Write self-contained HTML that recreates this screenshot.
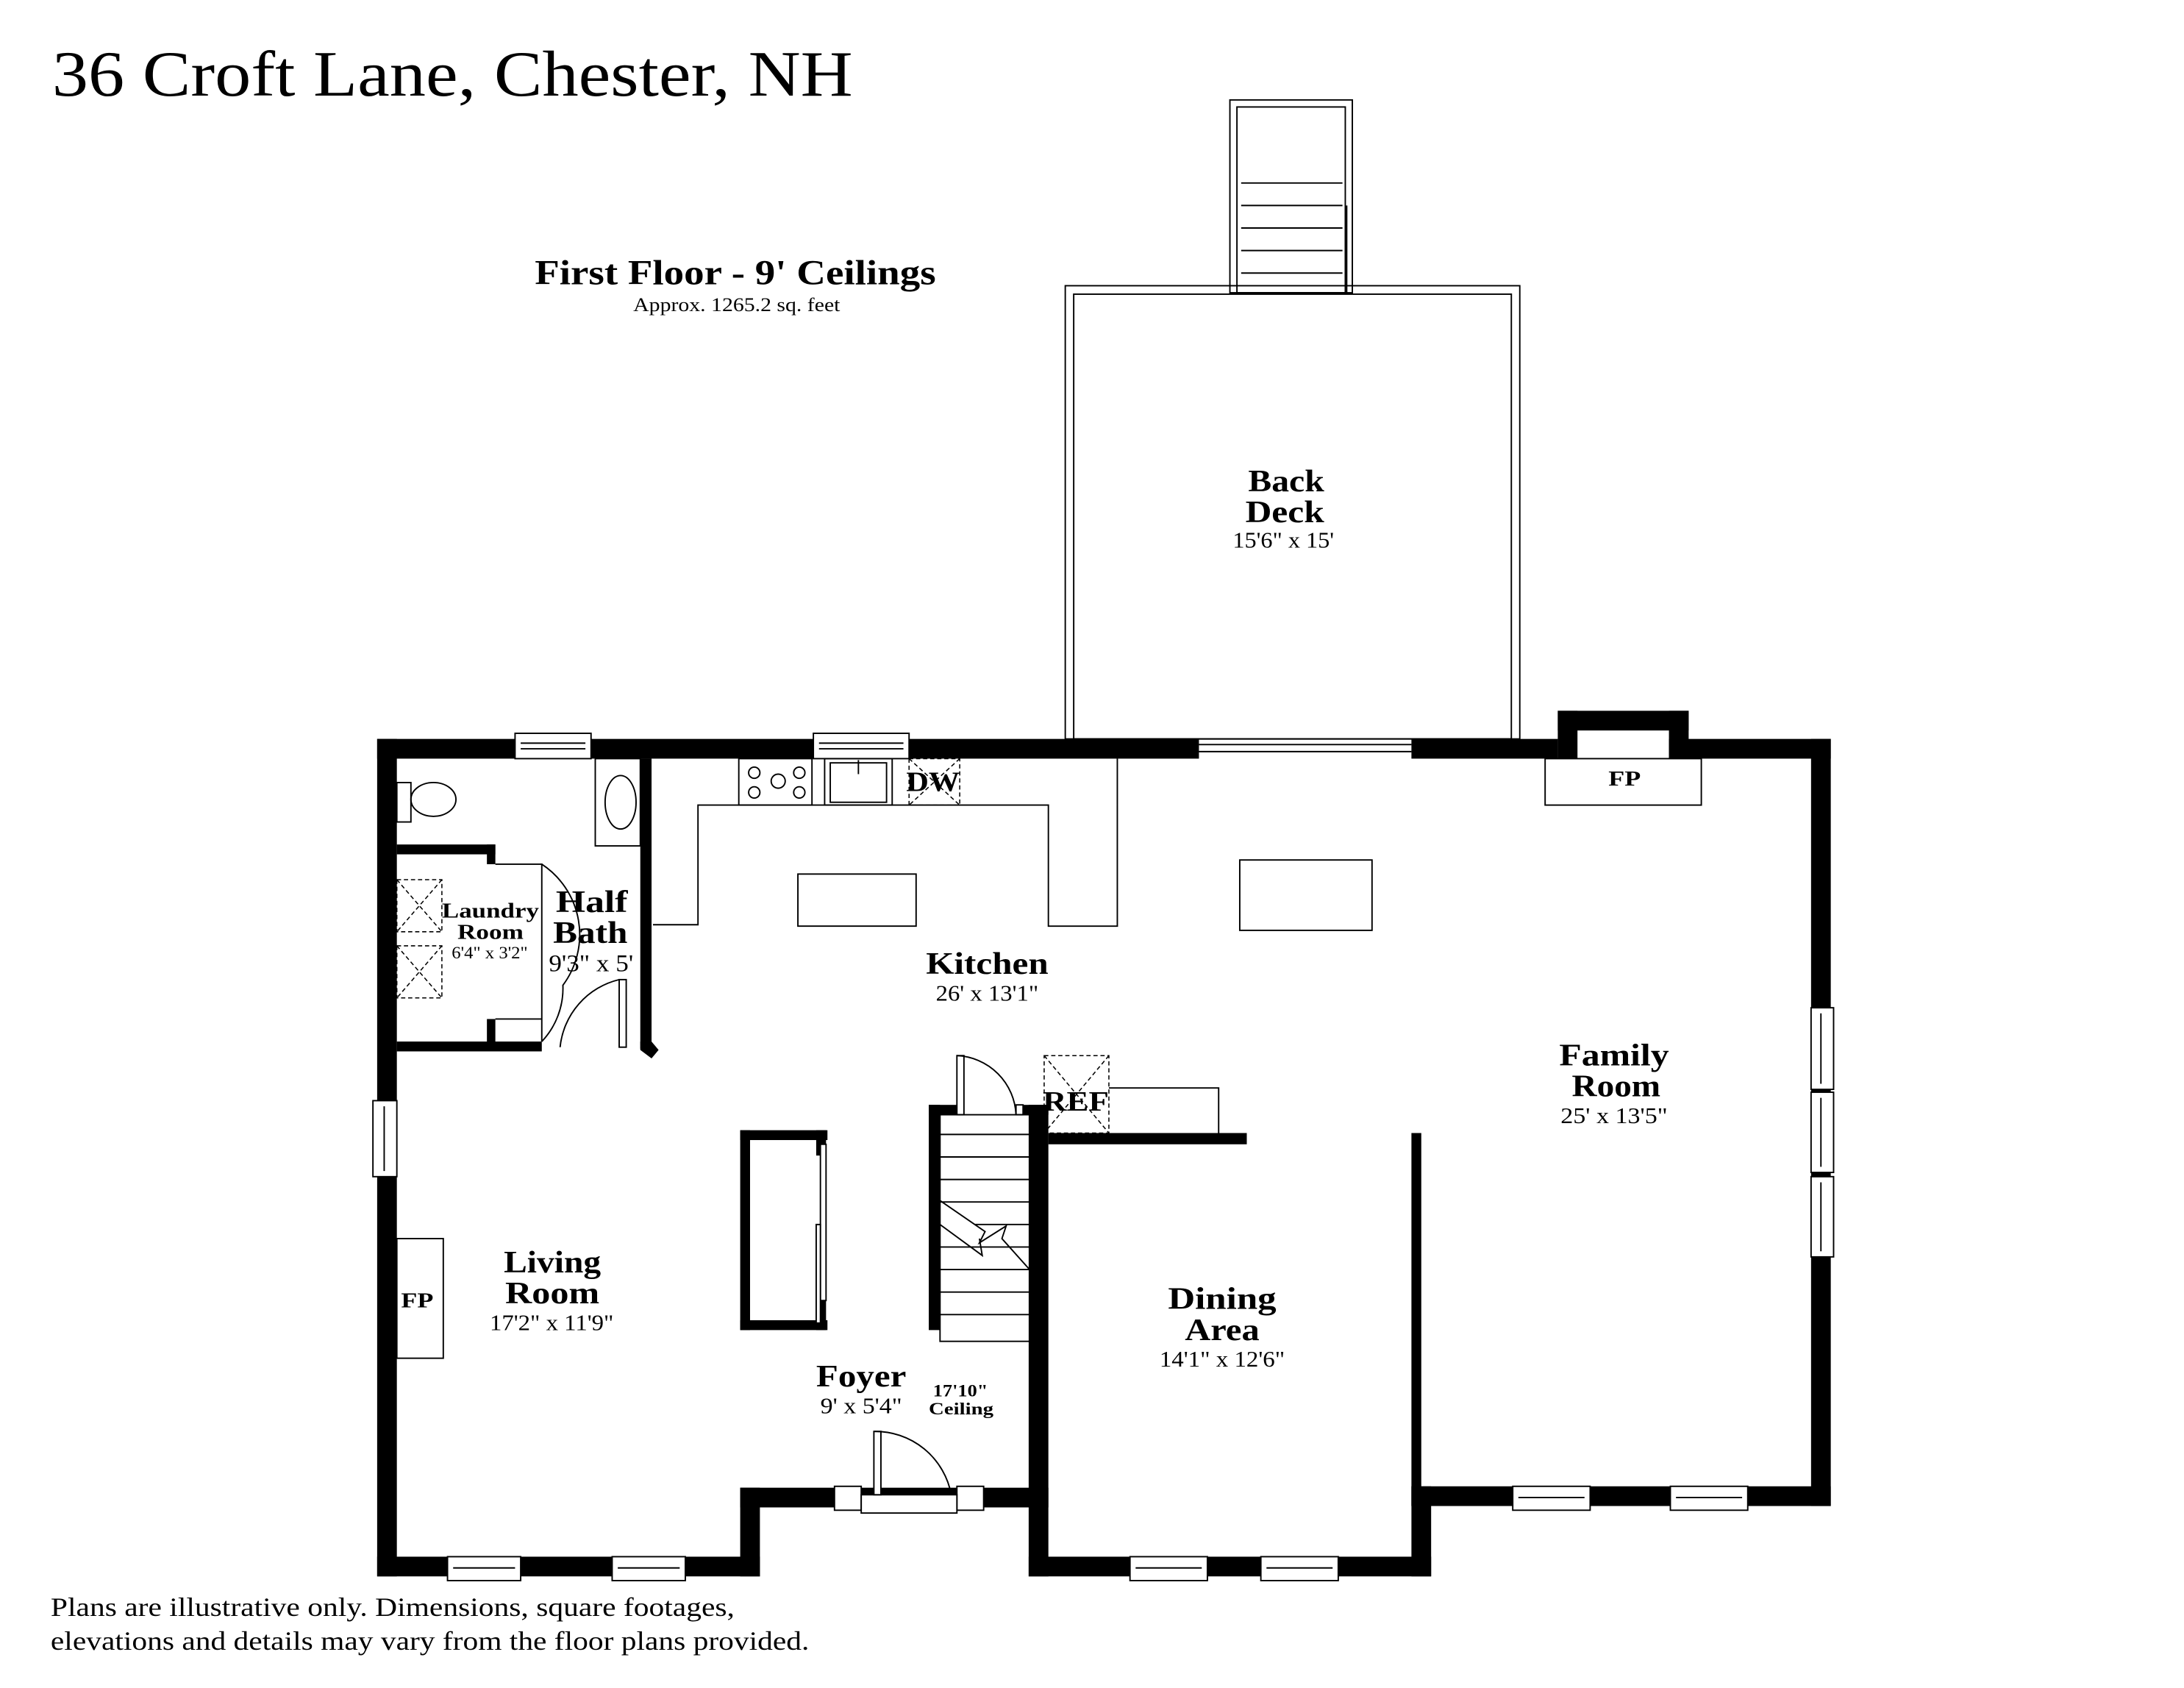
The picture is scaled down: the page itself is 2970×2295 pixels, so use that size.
<!DOCTYPE html>
<html><head><meta charset="utf-8">
<style>
html,body{margin:0;padding:0;background:#fff;}
svg{display:block;}
text{font-family:"Liberation Serif",serif;fill:#000;}
.b{font-weight:bold;}
</style></head>
<body>
<svg width="2970" height="2295" viewBox="0 0 1552 1199.3" xmlns="http://www.w3.org/2000/svg">
<rect x="0" y="0" width="1552" height="1200" fill="#fff"/>
<text x="37" y="68" font-size="46" textLength="569" lengthAdjust="spacingAndGlyphs">36 Croft Lane, Chester, NH</text>
<text x="380" y="202" font-size="25" class="b" textLength="285" lengthAdjust="spacingAndGlyphs">First Floor - 9' Ceilings</text>
<text x="450" y="221" font-size="14" textLength="147" lengthAdjust="spacingAndGlyphs">Approx. 1265.2 sq. feet</text>

<!-- deck -->
<g fill="none" stroke="#000" stroke-width="1">
<rect x="757" y="203" width="323" height="322"/>
<rect x="763" y="209" width="311" height="316"/>
<rect x="874" y="71" width="87" height="137"/>
<rect x="879" y="76" width="77" height="132"/>
<line x1="882" y1="130" x2="954" y2="130"/><line x1="882" y1="146" x2="954" y2="146"/>
<line x1="882" y1="162" x2="954" y2="162"/><line x1="882" y1="178" x2="954" y2="178"/>
<line x1="882" y1="194" x2="954" y2="194"/>
<line x1="957" y1="146" x2="957" y2="208"/>
<line x1="852" y1="529" x2="1003" y2="529"/><line x1="852" y1="534" x2="1003" y2="534"/>
</g>
<text x="887" y="349" font-size="22" class="b" textLength="54" lengthAdjust="spacingAndGlyphs">Back</text>
<text x="885" y="371" font-size="22" class="b" textLength="56" lengthAdjust="spacingAndGlyphs">Deck</text>
<text x="876" y="389" font-size="16" textLength="72" lengthAdjust="spacingAndGlyphs">15'6" x 15'</text>

<!-- walls -->
<g fill="#000">
<rect x="268" y="525" width="584" height="14"/>
<rect x="1003" y="525" width="104" height="14"/>
<rect x="1107" y="505" width="14" height="34"/>
<rect x="1107" y="505" width="93" height="14"/>
<rect x="1186" y="505" width="14" height="34"/>
<rect x="1186" y="525" width="115" height="14"/>
<rect x="1287" y="525" width="14" height="545"/>
<rect x="1003" y="1056" width="298" height="14"/>
<rect x="1003" y="805" width="7" height="265"/>
<rect x="1003" y="1056" width="14" height="64"/>
<rect x="731" y="1106" width="286" height="14"/>
<rect x="731" y="785" width="14" height="335"/>
<rect x="745" y="805" width="141" height="8"/>
<rect x="526" y="1057" width="219" height="14"/>
<rect x="526" y="1057" width="14" height="63"/>
<rect x="268" y="1106" width="272" height="14"/>
<rect x="268" y="525" width="14" height="595"/>
<rect x="455" y="539" width="8" height="206"/>
<rect x="282" y="600" width="70" height="7"/>
<rect x="346" y="600" width="6" height="14"/>
<rect x="282" y="740" width="103" height="7"/>
<rect x="346" y="724" width="6" height="20"/>
<rect x="660" y="785" width="8" height="160"/>
<rect x="660" y="785" width="20" height="7"/>
<rect x="727" y="785" width="18" height="7"/>
<rect x="526" y="803" width="62" height="7"/>
<rect x="526" y="938" width="62" height="7"/>
<rect x="526" y="803" width="7" height="142"/>
<rect x="580" y="803" width="7" height="18"/>
<rect x="580" y="924" width="7" height="21"/>
<polygon points="455,740 463,740 468,746 463,752 455,746"/>
</g>

<!-- windows -->
<g fill="#fff" stroke="#000" stroke-width="1">
<rect x="366" y="521" width="54" height="18"/><line x1="370" y1="528" x2="416" y2="528"/><line x1="370" y1="532" x2="416" y2="532"/>
<rect x="578" y="521" width="68" height="18"/><line x1="582" y1="528" x2="642" y2="528"/><line x1="582" y1="532" x2="642" y2="532"/>
<rect x="1287" y="716" width="16" height="58"/><line x1="1294" y1="720" x2="1294" y2="770"/>
<rect x="1287" y="776" width="16" height="57"/><line x1="1294" y1="780" x2="1294" y2="829"/>
<rect x="1287" y="836" width="16" height="57"/><line x1="1294" y1="840" x2="1294" y2="889"/>
<rect x="1075" y="1056" width="55" height="17"/><line x1="1079" y1="1064" x2="1126" y2="1064"/>
<rect x="1187" y="1056" width="55" height="17"/><line x1="1191" y1="1064" x2="1238" y2="1064"/>
<rect x="803" y="1106" width="55" height="17"/><line x1="807" y1="1114" x2="854" y2="1114"/>
<rect x="896" y="1106" width="55" height="17"/><line x1="900" y1="1114" x2="947" y2="1114"/>
<rect x="318" y="1106" width="52" height="17"/><line x1="322" y1="1114" x2="366" y2="1114"/>
<rect x="435" y="1106" width="52" height="17"/><line x1="439" y1="1114" x2="483" y2="1114"/>
<rect x="265" y="782" width="17" height="54"/><line x1="273" y1="786" x2="273" y2="832"/>
<rect x="593" y="1056" width="19" height="17"/><rect x="680" y="1056" width="19" height="17"/>
<rect x="612" y="1062" width="68" height="13"/>
<rect x="621" y="1017" width="5" height="45"/>
<rect x="583" y="813" width="4" height="111"/><rect x="580" y="870" width="3" height="70"/>
</g>
<g fill="none" stroke="#000" stroke-width="1">
<path d="M621 1017 A55 55 0 0 1 676 1062"/>
<rect x="1098" y="539" width="111" height="33"/>
<rect x="282" y="880" width="33" height="85"/>
<polyline points="464,657 496,657 496,572 745,572 745,658 794,658 794,539"/>
<rect x="567" y="621" width="84" height="37"/>
<rect x="881" y="611" width="94" height="50"/>
<rect x="525" y="539" width="52" height="33"/>
<rect x="586" y="539" width="48" height="33"/>
<rect x="590" y="542" width="40" height="28"/>
<circle cx="536" cy="549" r="4"/><circle cx="568" cy="549" r="4"/><circle cx="553" cy="555" r="5"/>
<circle cx="536" cy="563" r="4"/><circle cx="568" cy="563" r="4"/>
<line x1="610" y1="540" x2="610" y2="550"/>
<rect x="282" y="556" width="10" height="28"/>
<ellipse cx="308" cy="568" rx="16" ry="12"/>
<rect x="423" y="539" width="32" height="62"/>
<ellipse cx="441" cy="570" rx="11" ry="19"/>
<polyline points="352,614 385,614 385,740"/>
<path d="M385 614 A60 60 0 0 1 400 700 A55 55 0 0 1 385 740"/>
<polyline points="352,724 385,724"/>
<rect x="440" y="696" width="5" height="48"/>
<path d="M440 696 A55 55 0 0 0 398 744"/>
<rect x="680" y="750" width="5" height="42"/>
<path d="M680 750 A44 44 0 0 1 722 792"/>
<rect x="722" y="785" width="5" height="7"/>
<rect x="668" y="792" width="69" height="161"/>
<line x1="668" y1="806" x2="737" y2="806"/><line x1="668" y1="822" x2="737" y2="822"/>
<line x1="668" y1="838" x2="737" y2="838"/><line x1="668" y1="854" x2="737" y2="854"/>
<line x1="693" y1="870" x2="737" y2="870"/><line x1="668" y1="886" x2="737" y2="886"/>
<line x1="668" y1="902" x2="737" y2="902"/><line x1="668" y1="918" x2="737" y2="918"/>
<line x1="668" y1="934" x2="737" y2="934"/>
<polyline points="668,853 700,875 696,883 715,871 712,880 737,908"/>
<polyline points="668,870 698,892 696,880"/>
<rect x="737" y="912" width="3" height="30"/>
<polyline points="788,773 866,773 866,805"/>
</g>
<g fill="none" stroke="#000" stroke-width="0.8" stroke-dasharray="3,2">
<rect x="646" y="539" width="36" height="33"/><line x1="646" y1="539" x2="682" y2="572"/><line x1="682" y1="539" x2="646" y2="572"/>
<rect x="742" y="750" width="46" height="55"/><line x1="742" y1="750" x2="788" y2="805"/><line x1="788" y1="750" x2="742" y2="805"/>
<rect x="282" y="625" width="32" height="37"/><line x1="282" y1="625" x2="314" y2="662"/><line x1="314" y1="625" x2="282" y2="662"/>
<rect x="282" y="672" width="32" height="37"/><line x1="282" y1="672" x2="314" y2="709"/><line x1="314" y1="672" x2="282" y2="709"/>
</g>

<!-- labels -->
<g lengthAdjust="spacingAndGlyphs">
<text x="644" y="562" font-size="20" class="b" textLength="38" lengthAdjust="spacingAndGlyphs">DW</text>
<text x="741" y="789" font-size="20" class="b" textLength="47" lengthAdjust="spacingAndGlyphs">REF</text>
<text x="1143" y="558" font-size="15" class="b" textLength="23" lengthAdjust="spacingAndGlyphs">FP</text>
<text x="285" y="929" font-size="15" class="b" textLength="23" lengthAdjust="spacingAndGlyphs">FP</text>
<text x="314" y="652" font-size="15" class="b" textLength="69" lengthAdjust="spacingAndGlyphs">Laundry</text>
<text x="325" y="667" font-size="15" class="b" textLength="47" lengthAdjust="spacingAndGlyphs">Room</text>
<text x="321" y="681" font-size="12" textLength="54" lengthAdjust="spacingAndGlyphs">6'4" x 3'2"</text>
<text x="395" y="648" font-size="22" class="b" textLength="51" lengthAdjust="spacingAndGlyphs">Half</text>
<text x="393" y="670" font-size="22" class="b" textLength="53" lengthAdjust="spacingAndGlyphs">Bath</text>
<text x="390" y="690" font-size="17" textLength="60" lengthAdjust="spacingAndGlyphs">9'3" x 5'</text>
<text x="658" y="692" font-size="22" class="b" textLength="87" lengthAdjust="spacingAndGlyphs">Kitchen</text>
<text x="665" y="711" font-size="16" textLength="73" lengthAdjust="spacingAndGlyphs">26' x 13'1"</text>
<text x="1108" y="757" font-size="22" class="b" textLength="78" lengthAdjust="spacingAndGlyphs">Family</text>
<text x="1117" y="779" font-size="22" class="b" textLength="63" lengthAdjust="spacingAndGlyphs">Room</text>
<text x="1109" y="798" font-size="16" textLength="76" lengthAdjust="spacingAndGlyphs">25' x 13'5"</text>
<text x="358" y="904" font-size="22" class="b" textLength="69" lengthAdjust="spacingAndGlyphs">Living</text>
<text x="359" y="926" font-size="22" class="b" textLength="67" lengthAdjust="spacingAndGlyphs">Room</text>
<text x="348" y="945" font-size="16" textLength="88" lengthAdjust="spacingAndGlyphs">17'2" x 11'9"</text>
<text x="830" y="930" font-size="22" class="b" textLength="77" lengthAdjust="spacingAndGlyphs">Dining</text>
<text x="842" y="952" font-size="22" class="b" textLength="53" lengthAdjust="spacingAndGlyphs">Area</text>
<text x="824" y="971" font-size="16" textLength="89" lengthAdjust="spacingAndGlyphs">14'1" x 12'6"</text>
<text x="580" y="985" font-size="22" class="b" textLength="64" lengthAdjust="spacingAndGlyphs">Foyer</text>
<text x="583" y="1004" font-size="16" textLength="58" lengthAdjust="spacingAndGlyphs">9' x 5'4"</text>
<text x="663" y="992" font-size="12" class="b" textLength="39" lengthAdjust="spacingAndGlyphs">17'10"</text>
<text x="660" y="1005" font-size="12" class="b" textLength="46" lengthAdjust="spacingAndGlyphs">Ceiling</text>
<text x="36" y="1148" font-size="19" textLength="486" lengthAdjust="spacingAndGlyphs">Plans are illustrative only. Dimensions, square footages,</text>
<text x="36" y="1172" font-size="19" textLength="539" lengthAdjust="spacingAndGlyphs">elevations and details may vary from the floor plans provided.</text>
</g>
</svg>
</body></html>
